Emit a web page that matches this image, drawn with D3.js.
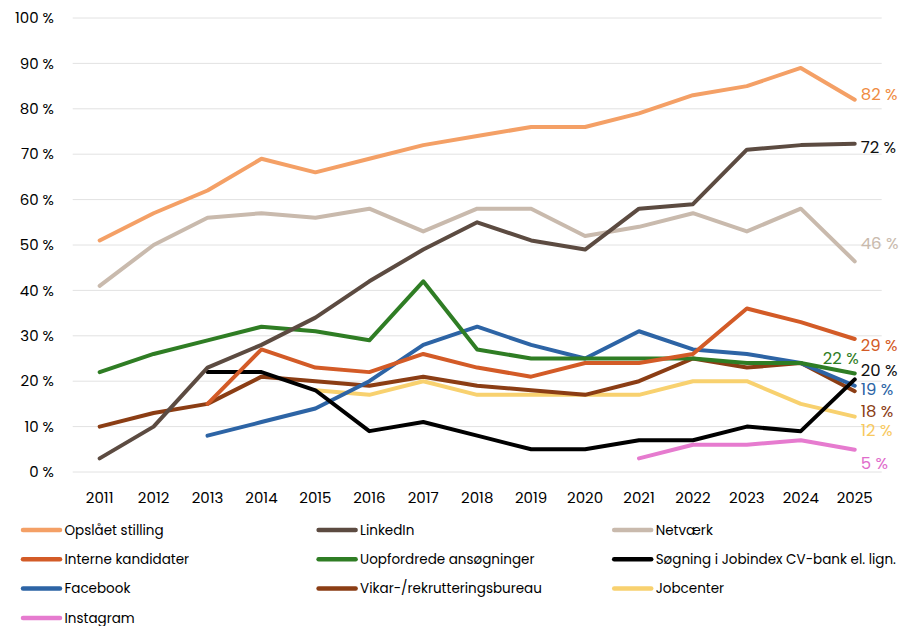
<!DOCTYPE html>
<meta charset="utf-8">
<head>
  <title>Rekrutteringskanaler</title>
</head>
<style>
body {
  margin: 0;
  background: #fff;
}
svg text {
  font-family: Poppins, Lato, "Open Sans", sans-serif;
  fill: #000;
}
.grid line {
  stroke: #e2e2e2;
  stroke-width: 1px;
}
.series {
  fill: none;
  stroke-width: 4px;
  stroke-linecap: round;
  stroke-linejoin: round;
}
</style>
<body>
<script src="https://d3js.org/d3.v7.min.js"></script>
<script>
var width = 903,
  height = 626

// years on the x axis
var years = [2011, 2012, 2013, 2014, 2015, 2016, 2017, 2018, 2019, 2020, 2021, 2022, 2023, 2024, 2025]

var yTicks = [0, 10, 20, 30, 40, 50, 60, 70, 80, 90, 100]

// series names, in legend order
var seriesNames = [
  "Opslået stilling", "LinkedIn", "Netværk",
  "Interne kandidater", "Uopfordrede ansøgninger", "Søgning i Jobindex CV-bank el. lign.",
  "Facebook", "Vikar-/rekrutteringsbureau", "Jobcenter",
  "Instagram"
]

// values per series (percent), null = not asked that year
var opslaaet   = [51, 57, 62, 69, 66, 69, 72, 74, 76, 76, 79, 83, 85, 89, 82]
var linkedin   = [3, 10, 23, 28, 34, 42, 49, 55, 51, 49, 58, 59, 71, 72, 72.3]
var netvaerk   = [41, 50, 56, 57, 56, 58, 53, 58, 58, 52, 54, 57, 53, 58, 46.4]
var interne    = [null, null, 15, 27, 23, 22, 26, 23, 21, 24, 24, 26, 36, 33, 29.3]
var uopfordr   = [22, 26, 29, 32, 31, 29, 42, 27, 25, 25, 25, 25, 24, 24, 21.7]
var soegning   = [null, null, 22, 22, 18, 9, 11, 8, 5, 5, 7, 7, 10, 9, 20.4]
var facebook   = [null, null, 8, 11, 14, 20, 28, 32, 28, 25, 31, 27, 26, 24, 19]
var vikar      = [10, 13, 15, 21, 20, 19, 21, 19, 18, 17, 20, 25, 23, 24, 17.8]
var jobcenter  = [null, null, null, null, 18, 17, 20, 17, 17, 17, 17, 20, 20, 15, 12.2]
var instagram  = [null, null, null, null, null, null, null, null, null, null, 3, 6, 6, 7, 4.9]

// end labels shown at 2025
var endLabels = ["82 %", "72 %", "46 %", "29 %", "22 %", "20 %", "19 %", "18 %", "12 %", "5 %"]

var seriesValues = [opslaaet, linkedin, netvaerk, interne, uopfordr, soegning, facebook, vikar, jobcenter, instagram]

var colors = ["#f4a066", "#5c4b41", "#c9baad", "#d35b27", "#2f7d24", "#000000", "#2d64a5", "#8b3d14", "#f8d16f", "#e67bcf"]
var labelColors = ["#ef8c43", "#111111", "#c9baad", "#d35b27", "#2f7d24", "#111111", "#2d64a5", "#8b3d14", "#f8c95e", "#e06ccb"]

// nudges so the end labels don't collide (dx, dy, anchor)
var labelNudge = [
  [6, -5, "start"], [6, 3, "start"], [6, -18, "start"], [6, 6, "start"], [4, -15, "end"],
  [6, -9, "start"], [6, 3, "start"], [6, 20, "start"], [6, 14, "start"], [6, 13, "start"]
]

var svg = d3.select("body").append("svg")
    .attr("width", width)
    .attr("height", height)

var x = d3.scalePoint()
  .domain(years)
  .range([72.7, 881.7])
  .padding(0.5)

var y = d3.scaleLinear()
  .domain([0, 100])
  .range([472, 18])

// gridlines
var grid = svg.append("g").attr("class", "grid")
grid.selectAll("line")
  .data(yTicks)
  .enter().append("line")
    .attr("x1", 72.7)
    .attr("x2", 881.7)
    .attr("y1", function(d) { return y(d) })
    .attr("y2", function(d) { return y(d) })

// y labels
svg.append("g").selectAll("text")
  .data(yTicks)
  .enter().append("text")
    .attr("x", 54)
    .attr("y", function(d) { return y(d) })
    .attr("dy", "0.35em")
    .attr("text-anchor", "end")
    .style("font-size", "15px")
    .text(function(d) { return d + " %" })

// x labels
svg.append("g").selectAll("text")
  .data(years)
  .enter().append("text")
    .attr("x", function(d) { return x(d) })
    .attr("y", 498)
    .attr("dy", "0.35em")
    .attr("text-anchor", "middle")
    .style("font-size", "15px")
    .text(function(d) { return d })

var line = d3.line()
  .defined(function(d) { return d != null })
  .x(function(d, i) { return x(years[i]) })
  .y(function(d) { return y(d) })

// draw back to front so orange ends up on top like the original
var order = [9, 8, 7, 6, 5, 4, 3, 2, 1, 0]
svg.append("g").selectAll("path")
  .data(order)
  .enter().append("path")
    .attr("class", "series")
    .attr("stroke", function(k) { return colors[k] })
    .attr("d", function(k) { return line(seriesValues[k]) })

// end labels
svg.append("g").selectAll("text")
  .data(d3.range(seriesValues.length))
  .enter().append("text")
    .attr("x", function(k) { return x(2025) + labelNudge[k][0] })
    .attr("y", function(k) { return y(seriesValues[k][14]) + labelNudge[k][1] })
    .attr("dy", "0.35em")
    .attr("text-anchor", function(k) { return labelNudge[k][2] })
    .style("font-size", "16.5px")
    .style("fill", function(k) { return labelColors[k] })
    .text(function(k) { return endLabels[k] })

// legend, 3 columns
var legend = svg.append("g").selectAll("g")
  .data(seriesNames)
  .enter().append("g")
    .attr("transform", function(d, i) {
      return "translate(" + (21 + (i % 3) * 295.6) + "," + (530 + Math.floor(i / 3) * 29.3) + ")"
    })

legend.append("line")
  .attr("x1", 2)
  .attr("x2", 39)
  .attr("stroke", function(d, i) { return colors[i] })
  .attr("stroke-width", 4.5)
  .attr("stroke-linecap", "round")

legend.append("text")
  .attr("x", 43.5)
  .attr("dy", "0.35em")
  .style("font-size", "13.5px")
  .text(function(d) { return d })
</script>
</body>
</html>
